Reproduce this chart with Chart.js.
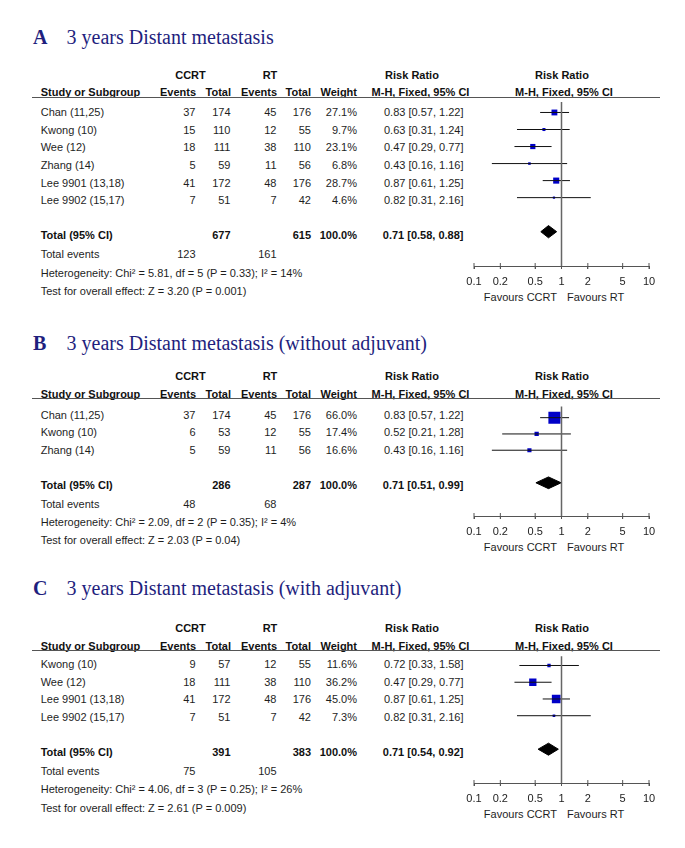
<!DOCTYPE html>
<html>
<head>
<meta charset="utf-8">
<script src="https://cdn.jsdelivr.net/npm/chart.js@4.4.1/dist/chart.umd.min.js"></script>
<style>
html, body { margin: 0; padding: 0; background: #fff; }
#page { position: relative; width: 685px; height: 848px; overflow: hidden; }
.t { position: absolute; white-space: nowrap; font: 11px 'Liberation Sans', Arial, sans-serif; line-height: 13px; color: #1e1e1e; }
.b { font-weight: bold; color: #111; }
.title { font: 20px 'Liberation Serif', 'Times New Roman', serif; line-height: 24px; color: #1f1f7e; }
.hr { position: absolute; height: 0; border-top: 1px solid #555; }
.plot { position: absolute; }
</style>
</head>
<body>
<div id="page"></div>
<script>
const tickVals = [0.1, 0.2, 0.5, 1, 2, 5, 10];
const tickLabels = ['0.1', '0.2', '0.5', '1', '2', '5', '10'];

// A - all trials
const studiesA = ['Chan (11,25)', 'Kwong (10)', 'Wee (12)', 'Zhang (14)', 'Lee 9901 (13,18)', 'Lee 9902 (15,17)'];
const ccrtEventsA = [37, 15, 18, 5, 41, 7];
const ccrtTotalA = [174, 110, 111, 59, 172, 51];
const rtEventsA = [45, 12, 38, 11, 48, 7];
const rtTotalA = [176, 55, 110, 56, 176, 42];
const weightA = [27.1, 9.7, 23.1, 6.8, 28.7, 4.6];
const rrA = [0.83, 0.63, 0.47, 0.43, 0.87, 0.82];
const lowA = [0.57, 0.31, 0.29, 0.16, 0.61, 0.31];
const highA = [1.22, 1.24, 0.77, 1.16, 1.25, 2.16];
const pooledA = [0.71, 0.58, 0.88];
const sumTotalA = [677, 615];
const sumEventsA = [123, 161];
const hetA = 'Heterogeneity: Chi² = 5.81, df = 5 (P = 0.33); I² = 14%';
const effectA = 'Test for overall effect: Z = 3.20 (P = 0.001)';

// B - without adjuvant
const studiesB = ['Chan (11,25)', 'Kwong (10)', 'Zhang (14)'];
const ccrtEventsB = [37, 6, 5];
const ccrtTotalB = [174, 53, 59];
const rtEventsB = [45, 12, 11];
const rtTotalB = [176, 55, 56];
const weightB = [66.0, 17.4, 16.6];
const rrB = [0.83, 0.52, 0.43];
const lowB = [0.57, 0.21, 0.16];
const highB = [1.22, 1.28, 1.16];
const pooledB = [0.71, 0.51, 0.99];
const sumTotalB = [286, 287];
const sumEventsB = [48, 68];
const hetB = 'Heterogeneity: Chi² = 2.09, df = 2 (P = 0.35); I² = 4%';
const effectB = 'Test for overall effect: Z = 2.03 (P = 0.04)';

// C - with adjuvant
const studiesC = ['Kwong (10)', 'Wee (12)', 'Lee 9901 (13,18)', 'Lee 9902 (15,17)'];
const ccrtEventsC = [9, 18, 41, 7];
const ccrtTotalC = [57, 111, 172, 51];
const rtEventsC = [12, 38, 48, 7];
const rtTotalC = [55, 110, 176, 42];
const weightC = [11.6, 36.2, 45.0, 7.3];
const rrC = [0.72, 0.47, 0.87, 0.82];
const lowC = [0.33, 0.29, 0.61, 0.31];
const highC = [1.58, 0.77, 1.25, 2.16];
const pooledC = [0.71, 0.54, 0.92];
const sumTotalC = [391, 383];
const sumEventsC = [75, 105];
const hetC = 'Heterogeneity: Chi² = 4.06, df = 3 (P = 0.25); I² = 26%';
const effectC = 'Test for overall effect: Z = 2.61 (P = 0.009)';

const panels = [
    { letter: 'A', title: '3 years Distant metastasis', studies: studiesA, ce: ccrtEventsA, ct: ccrtTotalA, re: rtEventsA, rt: rtTotalA, w: weightA, rr: rrA, lo: lowA, hi: highA, pooled: pooledA, tot: sumTotalA, ev: sumEventsA, het: hetA, eff: effectA },
    { letter: 'B', title: '3 years Distant metastasis (without adjuvant)', studies: studiesB, ce: ccrtEventsB, ct: ccrtTotalB, re: rtEventsB, rt: rtTotalB, w: weightB, rr: rrB, lo: lowB, hi: highB, pooled: pooledB, tot: sumTotalB, ev: sumEventsB, het: hetB, eff: effectB },
    { letter: 'C', title: '3 years Distant metastasis (with adjuvant)', studies: studiesC, ce: ccrtEventsC, ct: ccrtTotalC, re: rtEventsC, rt: rtTotalC, w: weightC, rr: rrC, lo: lowC, hi: highC, pooled: pooledC, tot: sumTotalC, ev: sumEventsC, het: hetC, eff: effectC }
];

// layout (pixels)
const panelPos = [
    { title: 37.3, line: 96.7, first: 112.3 },
    { title: 343.3, line: 398.3, first: 414.5 },
    { title: 588.3, line: 650, first: 664.3 }
];
const ROW = 17.55;
const col = { study: 40.7, ce: 195.5, ct: 230.5, re: 276.5, rt: 311, w: 357, ci: 463.5 };
const PLOT_LEFT = 454, PLOT_W = 215, PAD = 20, AXIS_H = 40;

Chart.defaults.font.family = "'Liberation Sans', Arial, sans-serif";
const page = document.getElementById('page');

function txt(str, x, y, align, cls) {
    const el = document.createElement('div');
    el.className = 't' + (cls ? ' ' + cls : '');
    el.textContent = str;
    el.style.left = x + 'px';
    el.style.top = y + 'px';
    const tx = align === 'right' ? '-100%' : align === 'center' ? '-50%' : '0';
    el.style.transform = 'translate(' + tx + ', -50%)';
    page.appendChild(el);
    return el;
}

function ciText(r, l, h) {
    return r.toFixed(2) + ' [' + l.toFixed(2) + ', ' + h.toFixed(2) + ']';
}

panels.forEach(function(p, k) {
    const pos = panelPos[k];
    const n = p.studies.length;

    // title
    const t1 = txt(p.letter, 33, pos.title, 'left', 'title');
    t1.style.fontWeight = 'bold';
    txt(p.title, 66.5, pos.title, 'left', 'title');

    // headers
    const h1 = pos.line - 22, h2 = pos.line - 4.5;
    txt('CCRT', 190.5, h1, 'center', 'b');
    txt('RT', 270, h1, 'center', 'b');
    txt('Risk Ratio', 412, h1, 'center', 'b');
    txt('Risk Ratio', 562, h1, 'center', 'b');
    txt('Study or Subgroup', col.study, h2, 'left', 'b');
    txt('Events', col.ce + 0.5, h2, 'right', 'b');
    txt('Total', col.ct + 0.5, h2, 'right', 'b');
    txt('Events', col.re + 0.5, h2, 'right', 'b');
    txt('Total', col.rt, h2, 'right', 'b');
    txt('Weight', col.w, h2, 'right', 'b');
    txt('M-H, Fixed, 95% CI', 420.5, h2, 'center', 'b');
    txt('M-H, Fixed, 95% CI', 564, h2, 'center', 'b');
    const hr = document.createElement('div');
    hr.className = 'hr';
    hr.style.left = '32px';
    hr.style.width = '628px';
    hr.style.top = Math.round(pos.line) + 'px';
    page.appendChild(hr);

    // study rows
    for (let i = 0; i < n; i++) {
        const y = pos.first + i * ROW;
        txt(p.studies[i], col.study, y, 'left');
        txt(String(p.ce[i]), col.ce, y, 'right');
        txt(String(p.ct[i]), col.ct, y, 'right');
        txt(String(p.re[i]), col.re, y, 'right');
        txt(String(p.rt[i]), col.rt, y, 'right');
        txt(p.w[i].toFixed(1) + '%', col.w, y, 'right');
        txt(ciText(p.rr[i], p.lo[i], p.hi[i]), col.ci, y, 'right');
    }

    // totals
    const ty = pos.first + (n + 1) * ROW;
    txt('Total (95% CI)', col.study, ty, 'left', 'b');
    txt(String(p.tot[0]), col.ct, ty, 'right', 'b');
    txt(String(p.tot[1]), col.rt, ty, 'right', 'b');
    txt('100.0%', col.w, ty, 'right', 'b');
    txt(ciText(p.pooled[0], p.pooled[1], p.pooled[2]), col.ci, ty, 'right', 'b');
    txt('Total events', col.study, ty + 19, 'left');
    txt(String(p.ev[0]), col.ce, ty + 19, 'right');
    txt(String(p.ev[1]), col.re, ty + 19, 'right');
    txt(p.het, col.study, ty + 37.4, 'left');
    txt(p.eff, col.study, ty + 55.5, 'left');

    const axisY = ty + 31;
    txt('Favours CCRT', 557, axisY + 31, 'right');
    txt('Favours RT', 567, axisY + 31, 'left');

    // forest plot
    const topPx = Math.round(pos.line);
    const h = Math.round(axisY) - topPx + AXIS_H;
    const firstMarker = pos.first - 4.5;
    const yMin = (topPx - firstMarker) / ROW;
    const yMax = (topPx + h - AXIS_H - firstMarker) / ROW;

    const wrap = document.createElement('div');
    wrap.className = 'plot';
    wrap.style.left = PLOT_LEFT + 'px';
    wrap.style.top = topPx + 'px';
    wrap.style.width = PLOT_W + 'px';
    wrap.style.height = h + 'px';
    const canvas = document.createElement('canvas');
    canvas.width = PLOT_W;
    canvas.height = h;
    canvas.style.width = PLOT_W + 'px';
    canvas.style.height = h + 'px';
    wrap.appendChild(canvas);
    page.appendChild(wrap);

    const datasets = [];
    // line of no effect
    datasets.push({
        data: [{ x: 1, y: yMin }, { x: 1, y: yMax }],
        showLine: true, borderColor: '#666', borderWidth: 1.5, pointRadius: 0, clip: false
    });
    // confidence intervals
    for (let i = 0; i < n; i++) {
        datasets.push({
            data: [{ x: p.lo[i], y: i }, { x: p.hi[i], y: i }],
            showLine: true, borderColor: '#111', borderWidth: 1, pointRadius: 0
        });
    }
    // study estimates, size by weight
    datasets.push({
        data: p.rr.map(function(v, i) { return { x: v, y: i }; }),
        pointStyle: 'rect',
        pointRadius: p.w.map(function(w) { return (1.5 + 0.16 * w) / Math.SQRT2; }),
        backgroundColor: '#0000c8', borderWidth: 0
    });
    // pooled diamond
    const dy = n + 1, dh = 0.36;
    datasets.push({
        type: 'line',
        data: [
            { x: p.pooled[1], y: dy }, { x: p.pooled[0], y: dy - dh },
            { x: p.pooled[2], y: dy }, { x: p.pooled[0], y: dy + dh },
            { x: p.pooled[1], y: dy }
        ],
        fill: 'shape', backgroundColor: '#000', borderColor: '#000', borderWidth: 1,
        pointRadius: 0, tension: 0
    });
    // upper half of axis ticks
    datasets.push({
        data: tickVals.map(function(v) { return { x: v, y: yMax }; }),
        pointStyle: 'line', rotation: 90, pointRadius: 3,
        borderColor: '#555', borderWidth: 1, clip: false
    });

    new Chart(canvas.getContext('2d'), {
        type: 'scatter',
        data: { datasets: datasets },
        options: {
            responsive: false,
            animation: false,
            events: [],
            layout: { padding: { left: PAD, right: PAD, top: 0, bottom: 0 } },
            plugins: { legend: { display: false }, tooltip: { enabled: false } },
            scales: {
                x: {
                    type: 'logarithmic',
                    min: 0.1,
                    max: 10,
                    position: 'bottom',
                    afterBuildTicks: function(scale) {
                        scale.ticks = tickVals.map(function(v) { return { value: v }; });
                    },
                    afterFit: function(scale) { scale.height = AXIS_H; },
                    ticks: {
                        autoSkip: false, maxRotation: 0, padding: 6,
                        color: '#222', font: { size: 11 },
                        callback: function(v, i) { return tickLabels[i]; }
                    },
                    grid: { drawOnChartArea: false, drawTicks: true, tickLength: 3, color: '#555', lineWidth: 1 },
                    border: { display: true, color: '#555', width: 1 }
                },
                y: {
                    type: 'linear',
                    display: false,
                    reverse: true,
                    min: yMin,
                    max: yMax
                }
            }
        }
    });
});
</script>
</body>
</html>
